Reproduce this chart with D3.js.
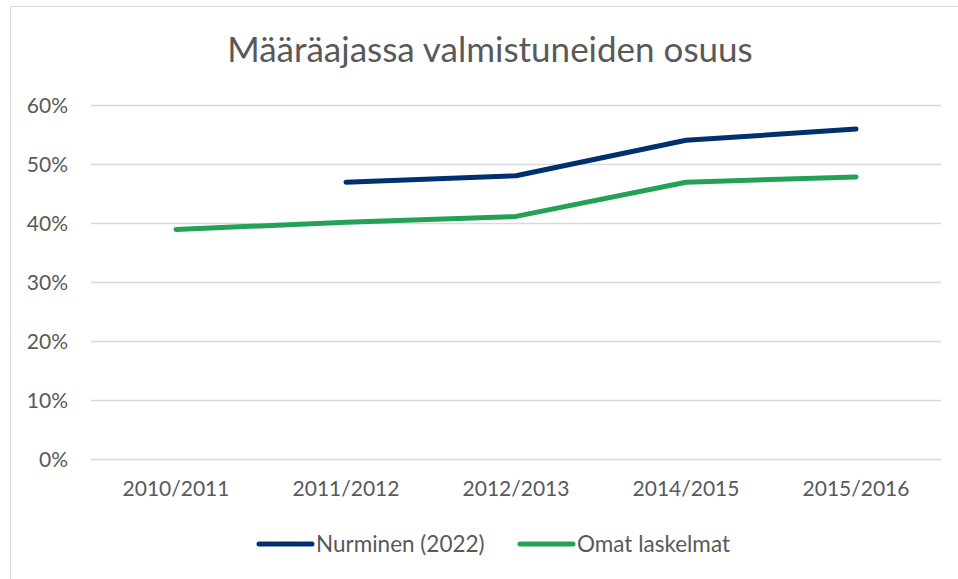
<!DOCTYPE html>
<html><head><meta charset="utf-8">
<script src="https://cdn.jsdelivr.net/npm/d3@7"></script>
<style>
html,body{margin:0;padding:0;background:#fff;}
svg{display:block;font-family:Lato, "Open Sans", sans-serif;}
</style></head>
<body>
<svg id="chart" width="958" height="579"></svg>
<script>
const title = "Määräajassa valmistuneiden osuus";
const categories = ["2010/2011","2011/2012","2012/2013","2014/2015","2015/2016"];
const seriesNames = ["Nurminen (2022)","Omat laskelmat"];
const nurminen = [null, 47.0, 48.1, 54.1, 56.0];
const omat = [39.0, 40.2, 41.2, 47.0, 47.9];
const yTicks = [0,10,20,30,40,50,60];
const colors = ["#00306E","#23A257"];

const svg = d3.select("#chart");
const W = 958, H = 579;
const margin = {left:91, right:17, top:105.5, bottom:119.5};

// chart frame
svg.append("rect").attr("x",10.5).attr("y",6.5).attr("width",970).attr("height",600)
  .attr("fill","#fff").attr("stroke","#d9d9d9").attr("stroke-width",1);

const x = d3.scaleBand().domain(categories).range([margin.left, W - margin.right]);
const y = d3.scaleLinear().domain([0,60]).range([H - margin.bottom, margin.top]);

// gridlines
svg.append("g").selectAll("line").data(yTicks).join("line")
  .attr("x1", margin.left).attr("x2", W - margin.right)
  .attr("y1", d => y(d)).attr("y2", d => y(d))
  .attr("stroke","#d9d9d9").attr("stroke-width",1.3);

// y axis labels
const yAxis = d3.axisLeft(y).tickValues(yTicks).tickFormat(d => d + "%").tickSize(0).tickPadding(0);
const gy = svg.append("g").attr("transform",`translate(68,0)`).call(yAxis);
gy.select(".domain").remove();
gy.selectAll("text").attr("font-size",21).attr("fill","#595959").attr("font-family","Lato, sans-serif");

// x axis labels
const xAxis = d3.axisBottom(x).tickSize(0).tickPadding(0);
const gx = svg.append("g").attr("transform",`translate(0,${y(0)+22})`).call(xAxis);
gx.select(".domain").remove();
gx.selectAll("text").attr("font-size",21).attr("fill","#595959").attr("font-family","Lato, sans-serif");

// lines
const line = d3.line()
  .defined(d => d.v != null)
  .x(d => x(d.c) + x.bandwidth()/2)
  .y(d => y(d.v));
const series = [nurminen, omat];
series.forEach((vals, i) => {
  const data = categories.map((c, j) => ({c, v: vals[j]}));
  svg.append("path").datum(data).attr("d", line)
    .attr("fill","none").attr("stroke", colors[i]).attr("stroke-width",5)
    .attr("stroke-linecap","round").attr("stroke-linejoin","round");
});

// title
svg.append("text").attr("x",490).attr("y",62).attr("text-anchor","middle")
  .attr("font-size",35).attr("fill","#595959").text(title);

// legend
const legendX = [257, 518];
seriesNames.forEach((name, i) => {
  const g = svg.append("g").attr("transform",`translate(${legendX[i]},544)`);
  g.append("line").attr("x1",2).attr("x2",55).attr("y1",0).attr("y2",0)
    .attr("stroke",colors[i]).attr("stroke-width",5).attr("stroke-linecap","round");
  g.append("text").attr("x",59).attr("y",7.5).attr("font-size",22.5).attr("fill","#595959").text(name);
});
</script>
</body></html>
